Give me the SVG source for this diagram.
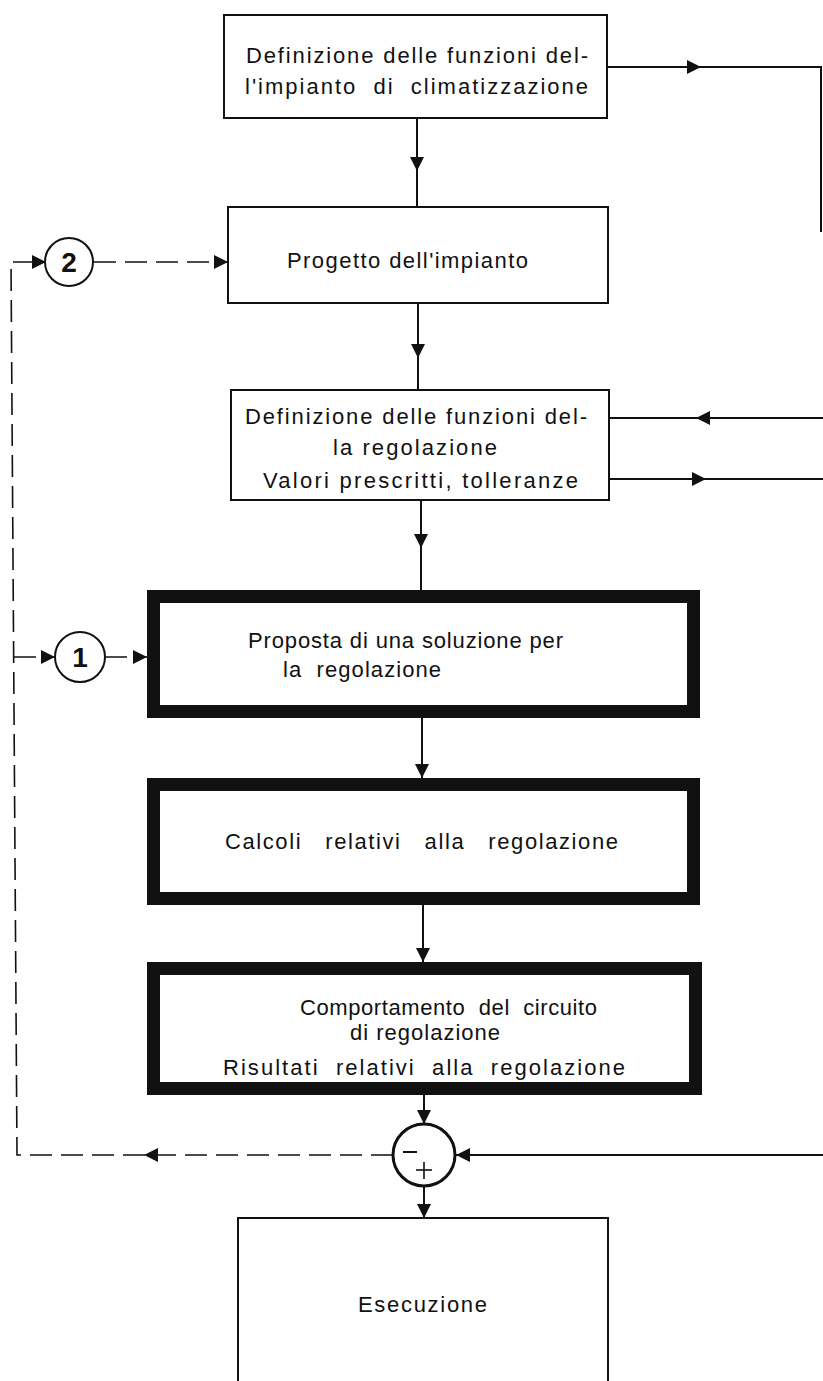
<svg xmlns="http://www.w3.org/2000/svg" xmlns:xlink="http://www.w3.org/1999/xlink" width="823" height="1381" viewBox="0 0 823 1381">
  <style>
    .box { fill: #fff; stroke: #111; stroke-width: 2; }
    .thick { fill: #fff; stroke: #111; stroke-width: 13; }
    .wire { fill: none; stroke: #111; stroke-width: 2; }
    .dash { fill: none; stroke: #111; stroke-width: 1.6; stroke-dasharray: 22 9; }
    .lbl { font-family: "Liberation Sans", Arial, Helvetica, sans-serif; font-size: 22px; fill: #111; }
    .num { font-family: "Liberation Sans", Arial, Helvetica, sans-serif; font-size: 28px; font-weight: bold; fill: #111; text-anchor: middle; }
    .ring { fill: #fff; stroke: #111; stroke-width: 2; }
  </style>
  <defs>
    <!-- filled arrowhead pointing along +x, tip at the origin -->
    <path id="ah" d="M0 0 L-14 -7 L-14 7 Z" fill="#111"/>
  </defs>
  <rect width="823" height="1381" fill="#fff"/>

  <g id="connectors">
    <!-- main flow -->
    <line class="wire" x1="417" y1="118" x2="417" y2="207"/>
    <use href="#ah" transform="translate(417,171) rotate(90)"/>
    <line class="wire" x1="418" y1="303" x2="418" y2="390"/>
    <use href="#ah" transform="translate(418,358) rotate(90)"/>
    <line class="wire" x1="421" y1="500" x2="421" y2="590"/>
    <use href="#ah" transform="translate(421,548) rotate(90)"/>
    <line class="wire" x1="422" y1="718" x2="422" y2="778"/>
    <use href="#ah" transform="translate(422,778) rotate(90)"/>
    <line class="wire" x1="423" y1="905" x2="423" y2="962"/>
    <use href="#ah" transform="translate(423,962) rotate(90)"/>
    <line class="wire" x1="424" y1="1095" x2="424" y2="1124"/>
    <use href="#ah" transform="translate(424,1124) rotate(90)"/>
    <line class="wire" x1="424" y1="1186" x2="424" y2="1218"/>
    <use href="#ah" transform="translate(424,1218) rotate(90)"/>

    <!-- right-hand side links -->
    <polyline class="wire" points="607,67 821,67 821,232"/>
    <use href="#ah" transform="translate(701,67)"/>
    <line class="wire" x1="823" y1="418" x2="609" y2="418"/>
    <use href="#ah" transform="translate(696,418) rotate(180)"/>
    <line class="wire" x1="609" y1="479" x2="823" y2="479"/>
    <use href="#ah" transform="translate(706,479)"/>
    <line class="wire" x1="823" y1="1155" x2="456" y2="1155"/>
    <use href="#ah" transform="translate(456,1155) rotate(180)"/>

    <!-- dashed return path -->
    <polyline class="dash" points="393,1155 17,1155 11,262 46,262"/>
    <use href="#ah" transform="translate(144,1155) rotate(180)"/>
    <use href="#ah" transform="translate(46,262)"/>
    <line class="dash" x1="94" y1="262" x2="228" y2="262"/>
    <use href="#ah" transform="translate(228,262)"/>
    <line class="dash" x1="14" y1="657" x2="55" y2="657"/>
    <use href="#ah" transform="translate(55,657)"/>
    <line class="dash" x1="105" y1="657" x2="147" y2="657"/>
    <use href="#ah" transform="translate(147,657)"/>
  </g>

  <g id="n-funzioni-impianto">
    <rect class="box" x="224" y="15" width="383" height="103"/>
    <text class="lbl" x="246" y="63" textLength="342" lengthAdjust="spacing">Definizione delle funzioni del-</text>
    <text class="lbl" x="245" y="94" textLength="343" lengthAdjust="spacing">l'impianto&#160; di&#160; climatizzazione</text>
  </g>

  <g id="n-progetto">
    <rect class="box" x="228" y="207" width="380" height="96"/>
    <text class="lbl" x="287" y="268" textLength="241" lengthAdjust="spacing">Progetto dell'impianto</text>
  </g>

  <g id="n-funzioni-regolazione">
    <rect class="box" x="231" y="390" width="378" height="110"/>
    <text class="lbl" x="245" y="424" textLength="342" lengthAdjust="spacing">Definizione delle funzioni del-</text>
    <text class="lbl" x="333" y="455" textLength="164" lengthAdjust="spacing">la regolazione</text>
    <text class="lbl" x="263" y="488" textLength="315" lengthAdjust="spacing">Valori prescritti, tolleranze</text>
  </g>

  <g id="n-proposta">
    <rect class="thick" x="153.5" y="596.5" width="540" height="115"/>
    <text class="lbl" x="248" y="648" textLength="315" lengthAdjust="spacing">Proposta di una soluzione per</text>
    <text class="lbl" x="283" y="677" textLength="158" lengthAdjust="spacing">la&#160; regolazione</text>
  </g>

  <g id="n-calcoli">
    <rect class="thick" x="153.5" y="784.5" width="540" height="114"/>
    <text class="lbl" x="225" y="849" textLength="393" lengthAdjust="spacing">Calcoli&#160;&#160; relativi&#160;&#160; alla&#160;&#160; regolazione</text>
  </g>

  <g id="n-comportamento">
    <rect class="thick" x="153.5" y="968.5" width="542" height="120"/>
    <text class="lbl" x="300" y="1015" textLength="297" lengthAdjust="spacing">Comportamento&#160; del&#160; circuito</text>
    <text class="lbl" x="350" y="1040" textLength="150" lengthAdjust="spacing">di regolazione</text>
    <text class="lbl" x="223" y="1075" textLength="402" lengthAdjust="spacing">Risultati&#160; relativi&#160; alla&#160; regolazione</text>
  </g>

  <g id="n-somma">
    <circle cx="424" cy="1155" r="31" fill="#fff" stroke="#111" stroke-width="3"/>
    <line class="wire" x1="403" y1="1152" x2="417" y2="1152"/>
    <line stroke="#111" stroke-width="1.6" x1="416" y1="1170" x2="432" y2="1170"/>
    <line stroke="#111" stroke-width="1.6" x1="424" y1="1162" x2="424" y2="1179"/>
  </g>

  <g id="n-esecuzione">
    <rect class="box" x="238" y="1218" width="370" height="200"/>
    <text class="lbl" x="358" y="1312" textLength="129" lengthAdjust="spacing">Esecuzione</text>
  </g>

  <g id="n-loop-2">
    <circle class="ring" cx="69" cy="262" r="24"/>
    <text class="num" x="69" y="272">2</text>
  </g>

  <g id="n-loop-1">
    <circle class="ring" cx="80" cy="657" r="25"/>
    <text class="num" x="80" y="667">1</text>
  </g>
</svg>
